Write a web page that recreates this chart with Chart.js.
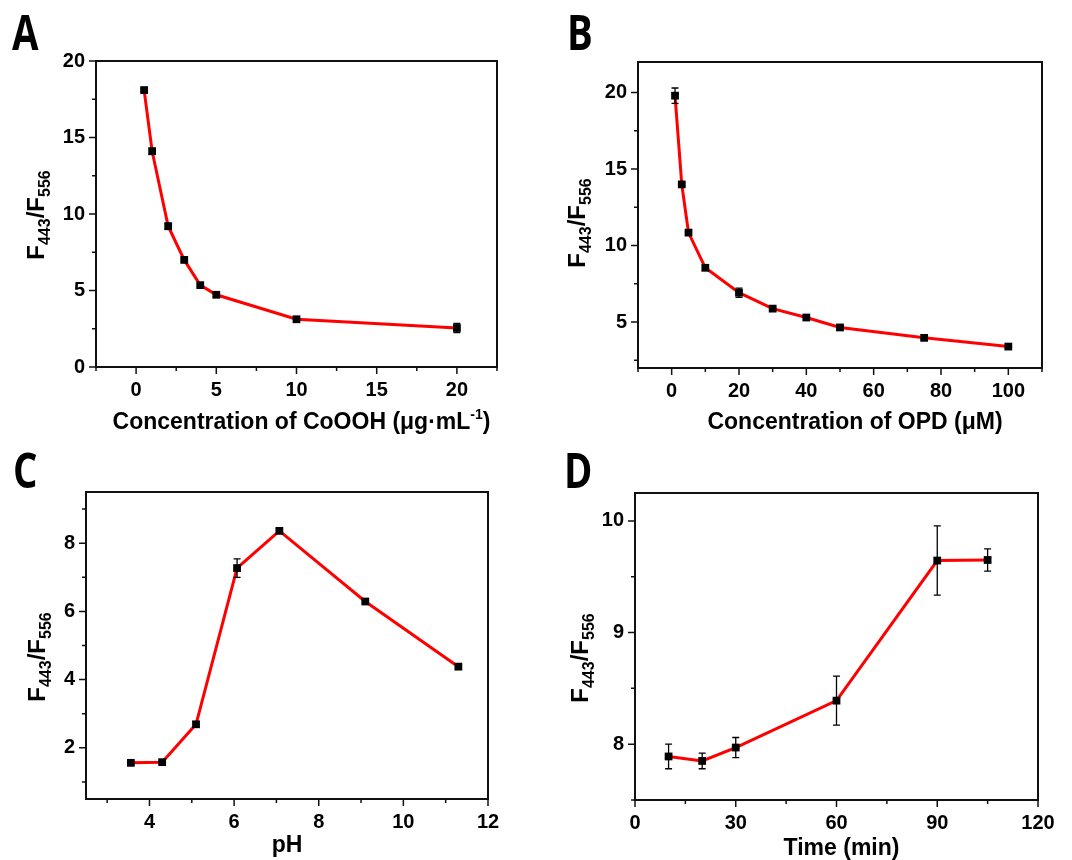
<!DOCTYPE html>
<html>
<head>
<meta charset="UTF-8">
<title>F443/F556 panels</title>
<script src="https://cdn.jsdelivr.net/npm/chart.js@4"></script>
<style>
  body { margin: 0; background: #fff; }
  #wrap { position: relative; width: 1072px; height: 860px; overflow: hidden; }
  canvas { position: absolute; }
</style>
</head>
<body>
<div id="wrap">
  <canvas id="cA" width="536" height="445" style="left:0;top:0"></canvas>
  <canvas id="cB" width="536" height="445" style="left:536px;top:0"></canvas>
  <canvas id="cC" width="536" height="430" style="left:0;top:430px"></canvas>
  <canvas id="cD" width="536" height="430" style="left:536px;top:430px"></canvas>
</div>
<script>
// A: CoOOH concentration
const cooohConc = [0.5, 1, 2, 3, 4, 5, 10, 20];
const cooohRatio = [18.1, 14.1, 9.2, 7.0, 5.35, 4.72, 3.12, 2.55];
const cooohErr = [0.1, 0.2, 0.2, 0.1, 0.1, 0.1, 0.1, 0.3];

// B: OPD concentration
const opdConc = [1, 3, 5, 10, 20, 30, 40, 50, 75, 100];
const opdRatio = [19.8, 14.0, 10.85, 8.55, 6.92, 5.88, 5.3, 4.65, 3.97, 3.4];
const opdErr = [0.5, 0.1, 0.1, 0.15, 0.3, 0.1, 0.15, 0.15, 0.1, 0.1];

// C: pH
const phValues = [3.56, 4.3, 5.1, 6.07, 7.07, 9.1, 11.3];
const phRatio = [1.56, 1.58, 2.69, 7.27, 8.36, 6.29, 4.38];
const phErr = [0.05, 0.05, 0.08, 0.27, 0.07, 0.05, 0.08];

// D: incubation time
const timeMin = [10, 20, 30, 60, 90, 105];
const timeRatio = [7.89, 7.85, 7.97, 8.39, 9.645, 9.65];
const timeErr = [0.11, 0.07, 0.09, 0.22, 0.31, 0.1];

const yTitle = [{ t: 'F' }, { t: '443', sub: true }, { t: '/F' }, { t: '556', sub: true }];

const panels = [
  { id: 'cA', letter: 'A', xs: cooohConc, ys: cooohRatio, err: cooohErr,
    x: { min: -2.5, max: 22.5, minor: 2.5, major: 5 }, y: { min: 0, max: 20, minor: 2.5, major: 5 },
    area: { l: 96, t: 61, r: 39, b: 78 },
    xTitle: [{ t: 'Concentration of CoOOH (\u03bcg\u00b7mL' }, { t: '-1', sup: true }, { t: ')' }],
    xTitleDx: 5, xTitleBase: 429, yTitleX: 44, yTitleY: 215, letterPos: [12, 50] },
  { id: 'cB', letter: 'B', xs: opdConc, ys: opdRatio, err: opdErr,
    x: { min: -10, max: 110, minor: 10, major: 20 }, y: { min: 2, max: 22, minor: 2.5, major: 5 },
    area: { l: 102, t: 62, r: 30, b: 77 },
    xTitle: [{ t: 'Concentration of OPD (\u03bcM)' }],
    xTitleDx: 15, xTitleBase: 429, yTitleX: 49, yTitleY: 223, letterPos: [31, 50] },
  { id: 'cC', letter: 'C', xs: phValues, ys: phRatio, err: phErr,
    x: { min: 2.5, max: 12, minor: 1, major: 2 }, y: { min: 0.5, max: 9.5, minor: 1, major: 2 },
    area: { l: 86, t: 62, r: 48, b: 61 },
    xTitle: [{ t: 'pH' }],
    xTitleDx: 0, xTitleBase: 422, yTitleX: 45, yTitleY: 227, letterPos: [13, 58] },
  { id: 'cD', letter: 'D', xs: timeMin, ys: timeRatio, err: timeErr,
    x: { min: 0, max: 120, minor: 15, major: 30 }, y: { min: 7.5, max: 10.25, minor: 0.5, major: 1 },
    area: { l: 99, t: 63, r: 34, b: 60 },
    xTitle: [{ t: 'Time (min)' }],
    xTitleDx: 5, xTitleBase: 425, yTitleX: 52, yTitleY: 228, letterPos: [28, 58] }
];

const FONT = '"Liberation Sans", Arial, sans-serif';
const Y_W = 60, X_H = 40;

function isMult(v, step) {
  const r = v / step;
  return Math.abs(r - Math.round(r)) < 1e-6;
}

function segFont(s, big) {
  if (s.sub) return 'bold 16px ' + FONT;
  if (s.sup) return 'bold 14px ' + FONT;
  return 'bold ' + big + 'px ' + FONT;
}

function drawRich(ctx, segs, cx, base, big) {
  let w = 0;
  const ws = segs.map(s => { ctx.font = segFont(s, big); const m = ctx.measureText(s.t).width; w += m; return m; });
  let x = cx - w / 2;
  segs.forEach((s, i) => {
    ctx.font = segFont(s, big);
    ctx.fillText(s.t, x, base + (s.sub ? 6 : s.sup ? -10 : 0));
    x += ws[i];
  });
}

const framePlugin = {
  id: 'frame',
  afterDatasetsDraw(chart) {
    const p = chart.options.plugins.frame;
    const { ctx, scales: { x, y } } = chart;
    ctx.save();
    ctx.strokeStyle = '#000';
    ctx.lineWidth = 1.3;
    ctx.beginPath();
    p.xs.forEach((xv, i) => {
      const px = x.getPixelForValue(xv);
      const top = y.getPixelForValue(p.ys[i] + p.err[i]);
      const bot = y.getPixelForValue(p.ys[i] - p.err[i]);
      ctx.moveTo(px, top); ctx.lineTo(px, bot);
      ctx.moveTo(px - 3.5, top); ctx.lineTo(px + 3.5, top);
      ctx.moveTo(px - 3.5, bot); ctx.lineTo(px + 3.5, bot);
    });
    ctx.stroke();
    ctx.restore();
  },
  afterDraw(chart) {
    const p = chart.options.plugins.frame;
    const { ctx, chartArea: a, scales: { x, y } } = chart;
    ctx.save();
    ctx.strokeStyle = '#111';
    ctx.lineWidth = 2;
    ctx.strokeRect(a.left, a.top, a.right - a.left, a.bottom - a.top);

    ctx.lineWidth = 1.5;
    ctx.beginPath();
    x.ticks.forEach(t => {
      const px = x.getPixelForValue(t.value);
      const len = isMult(t.value, p.x.major) ? 7 : 4;
      ctx.moveTo(px, a.bottom); ctx.lineTo(px, a.bottom + len);
    });
    y.ticks.forEach(t => {
      const py = y.getPixelForValue(t.value);
      const len = isMult(t.value, p.y.major) ? 7 : 4;
      ctx.moveTo(a.left, py); ctx.lineTo(a.left - len, py);
    });
    ctx.stroke();

    ctx.fillStyle = '#000';
    ctx.textBaseline = 'alphabetic';
    ctx.textAlign = 'left';
    drawRich(ctx, p.xTitle, (a.left + a.right) / 2 + p.xTitleDx, p.xTitleBase, 23);

    ctx.save();
    ctx.translate(p.yTitleX, p.yTitleY);
    ctx.rotate(-Math.PI / 2);
    drawRich(ctx, yTitle, 0, 0, 24);
    ctx.restore();

    ctx.save();
    ctx.translate(p.letterPos[0], p.letterPos[1]);
    ctx.scale(0.8, 1);
    ctx.font = 'bold 48px "Open Sans", sans-serif';
    ctx.fillText(p.letter, 0, 0);
    ctx.restore();

    ctx.restore();
  }
};

function axis(r, fit) {
  return {
    type: 'linear',
    min: r.min,
    max: r.max,
    grid: { display: false, drawTicks: false },
    border: { display: false },
    afterFit: fit,
    // ticks on the minor step, labels only on the major step
    afterBuildTicks: s => {
      const out = [];
      for (let k = Math.ceil(r.min / r.minor - 1e-9); k * r.minor <= r.max + 1e-9; k++) {
        out.push({ value: +(k * r.minor).toFixed(6) });
      }
      s.ticks = out;
    },
    ticks: {
      autoSkip: false,
      maxRotation: 0,
      padding: 11,
      color: '#000',
      font: { family: FONT, size: 20, weight: 'bold' },
      callback: v => isMult(v, r.major) ? String(v) : ''
    }
  };
}

panels.forEach(p => {
  new Chart(document.getElementById(p.id), {
    type: 'line',
    data: {
      datasets: [{
        data: p.xs.map((xv, i) => ({ x: xv, y: p.ys[i] })),
        borderColor: '#ff0000',
        borderWidth: 3,
        tension: 0,
        pointStyle: 'rect',
        pointRadius: 5.5,
        pointBackgroundColor: '#000',
        pointBorderColor: '#000',
        pointBorderWidth: 0
      }]
    },
    options: {
      responsive: false,
      animation: false,
      events: [],
      layout: { padding: { left: p.area.l - Y_W, top: p.area.t, right: p.area.r, bottom: p.area.b - X_H } },
      scales: {
        x: axis(p.x, s => { s.height = X_H; }),
        y: axis(p.y, s => { s.width = Y_W; })
      },
      plugins: {
        legend: { display: false },
        tooltip: { enabled: false },
        frame: p
      }
    },
    plugins: [framePlugin]
  });
});
</script>
</body>
</html>
